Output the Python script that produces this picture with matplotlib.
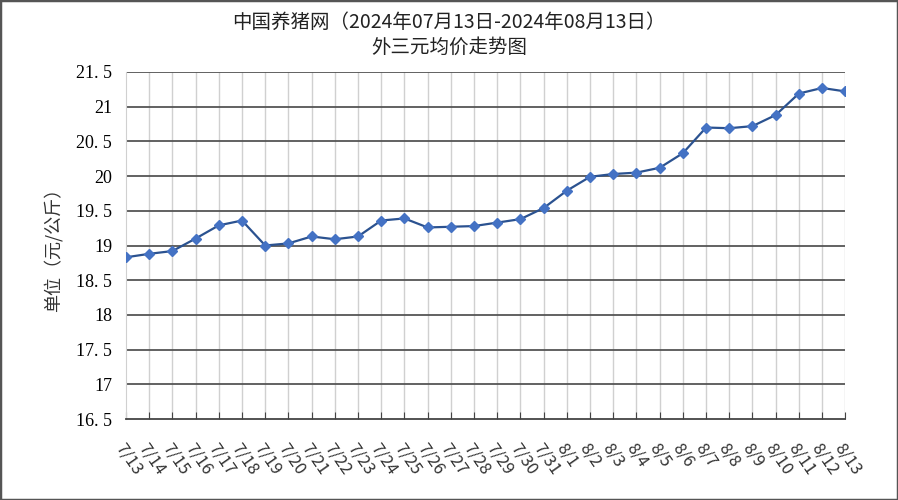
import matplotlib.pyplot as plt
from matplotlib.patches import Rectangle

plt.rcParams['font.family'] = ['Noto Sans CJK SC', 'DejaVu Sans']

# data
dates = ['7/13', '7/14', '7/15', '7/16', '7/17', '7/18', '7/19', '7/20', '7/21', '7/22',
         '7/23', '7/24', '7/25', '7/26', '7/27', '7/28', '7/29', '7/30', '7/31',
         '8/1', '8/2', '8/3', '8/4', '8/5', '8/6', '8/7', '8/8', '8/9', '8/10',
         '8/11', '8/12', '8/13']
prices = [18.83, 18.88, 18.92, 19.10, 19.29, 19.36, 19.00, 19.03, 19.13, 19.09,
          19.13, 19.36, 19.39, 19.26, 19.27, 19.28, 19.33, 19.38, 19.54,
          19.79, 19.99, 20.03, 20.05, 20.12, 20.33, 20.70, 20.69, 20.72, 20.88,
          21.19, 21.27, 21.22]
yticks = [16.5, 17, 17.5, 18, 18.5, 19, 19.5, 20, 20.5, 21, 21.5]
ytick_labels = ['16. 5', '17', '17. 5', '18', '18. 5', '19', '19. 5', '20', '20. 5', '21', '21. 5']

fig = plt.figure(figsize=(8.98, 5), dpi=100)
ax = fig.add_axes([0.1403, 0.162, 0.801, 0.694])

x = list(range(len(dates)))
ax.plot(x, prices, color='#2b5290', lw=1.6, zorder=3)
ax.plot(x, prices, ls='none', marker='D', ms=5, color='#4472c4', zorder=4)

ax.set_xlim(0, len(dates) - 1)
ax.set_ylim(16.5, 21.5)

ax.set_yticks(yticks)
ax.set_yticklabels(ytick_labels, family=['Liberation Serif', 'DejaVu Serif'], fontsize=13)
ax.tick_params(axis='y', length=0, pad=10)

ax.set_xticks(x)
ax.set_xticklabels(dates, rotation=-55, ha='left', va='top', rotation_mode='anchor',
                   fontsize=12, color='#333333')
ax.tick_params(axis='x', direction='in', length=5, color='#444444', pad=15)

for v in yticks[1:]:
    ax.axhline(v, color='#555555', lw=1.3, zorder=1)
for xi in x[1:]:
    ax.axvline(xi, color='#d0d0d0', lw=1, zorder=0)

for s in ['top', 'right']:
    ax.spines[s].set_visible(False)
ax.spines['left'].set_color('#d0d0d0')
ax.spines['bottom'].set_color('#444444')
ax.spines['bottom'].set_linewidth(1.3)

ax.set_ylabel('单位（元/公斤）', fontsize=13, color='#333333', labelpad=10)

fig.text(0.5, 0.955, '中国养猪网（2024年07月13日-2024年08月13日）', ha='center', va='center',
         fontsize=14, color='#222222')
fig.text(0.5, 0.905, '外三元均价走势图', ha='center', va='center', fontsize=14, color='#222222')

fig.patches.append(Rectangle((0, 0), 1, 1, transform=fig.transFigure, fill=False,
                             edgecolor='#555555', lw=2.5))

fig.savefig('out.png', dpi=100)
